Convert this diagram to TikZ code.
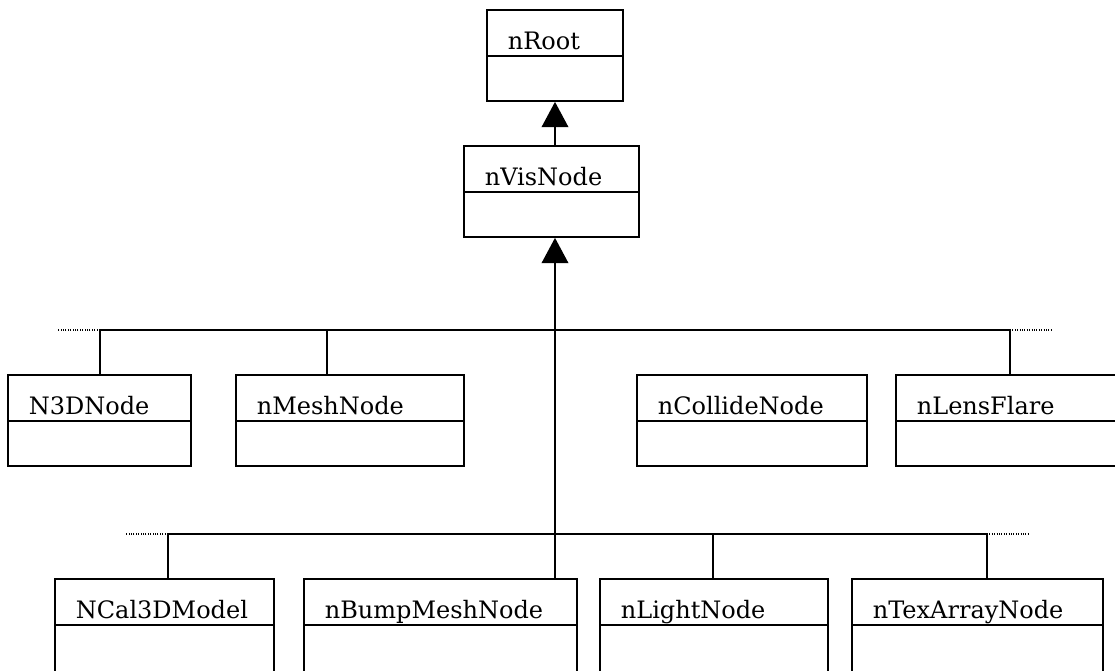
\documentclass[tikz,border=0pt]{standalone}
\usepackage{fontspec}
\setmainfont{DejaVu Serif}
\usetikzlibrary{arrows.meta,calc,fit,positioning}

\begin{document}
\begin{tikzpicture}[x=0.75pt,y=-0.75pt,line width=1.3pt,
  classbox/.style={draw,rectangle,inner sep=0pt},
  classname/.style={anchor=base west,inner sep=0pt,font=\fontsize{18}{21}\selectfont},
  inherit/.style={-{Triangle[width=20pt,length=19pt]}},
  more/.style={densely dotted,line width=0.8pt}]
\useasboundingbox (0,0) rectangle (1115,671);
\clip (0,0) rectangle (1115,671);
% name/left/top/right/bottom/link/text
\foreach \n/\l/\t/\r/\b/\k/\txt in {
  root/487/10/623/101/555/nRoot, vis/464/146/639/237/555/nVisNode,
  n3d/8/375/191/466/100/N3DNode, mesh/236/375/464/466/327/nMeshNode,
  collide/637/375/867/466/752/nCollideNode, lens/896/375/1125/466/1010/nLensFlare,
  cal/55/579/274/690/168/NCal3DModel, bump/304/579/577/690/555/nBumpMeshNode,
  light/600/579/828/690/713/nLightNode, tex/852/579/1103/690/987/nTexArrayNode}{
  \node[classbox,fit={(\l,\t) (\r,\b)}] (\n) {};
  \draw (\l,\t+46) -- (\r,\t+46);
  \node[classname] (\n-name) at (\l+20,\t+39) {\txt};
  \coordinate (\n-top) at (\k,\t);
}
\coordinate (busA) at (555,330);
\coordinate (busB) at (555,534);
%\draw[inherit] (vis) -- (root);
\draw[inherit] (vis-top) -- (root.south);
\draw[inherit] (bump-top) -- (root.south |- vis.south);
\draw (n3d-top |- busA) -- (lens-top |- busA);
\draw[more] (n3d-top |- busA) -- ++(-43,0);
\draw[more] (lens-top |- busA) -- ++(43,0);
\draw (cal-top |- busB) -- (tex-top |- busB);
\draw[more] (cal-top |- busB) -- ++(-42,0);
\draw[more] (tex-top |- busB) -- ++(43,0);
\foreach \n in {n3d,mesh,lens}
  \draw (\n-top |- busA) -- (\n-top);
\foreach \n in {cal,light,tex}
  \draw (\n-top |- busB) -- (\n-top);
\end{tikzpicture}
\end{document}
